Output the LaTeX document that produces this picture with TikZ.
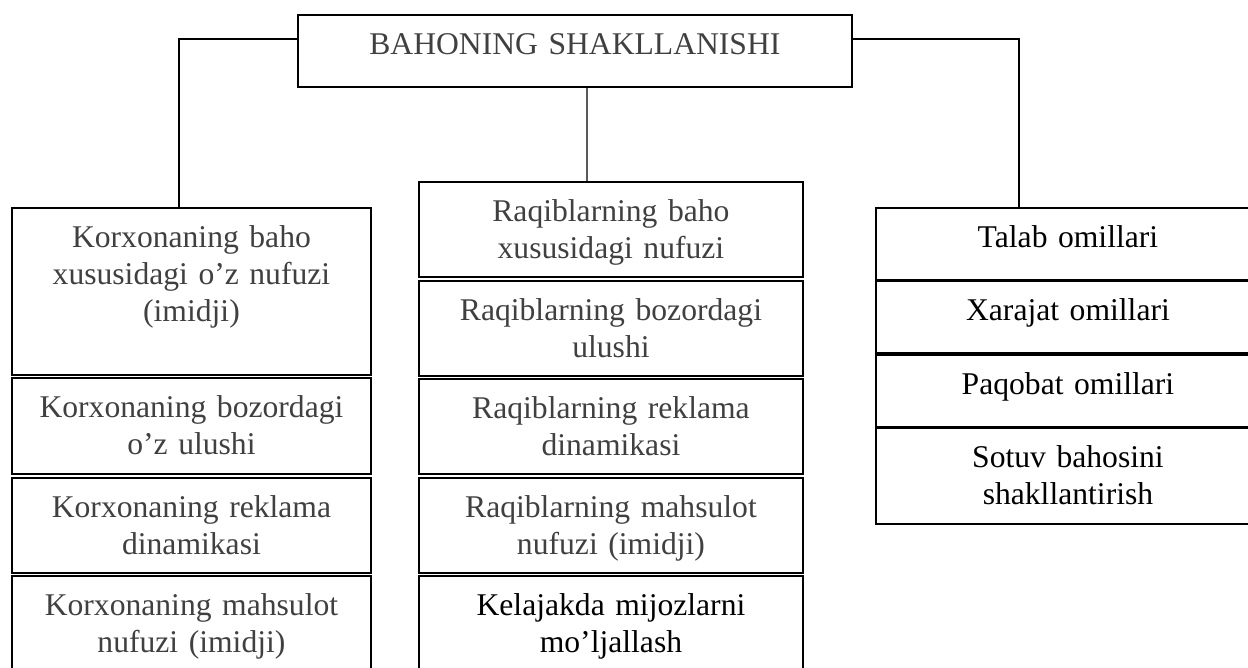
\documentclass[tikz,border=0pt]{standalone}
\usepackage{fontspec}
\setmainfont{Liberation Serif}
\definecolor{kulrang}{HTML}{404040}
\tikzset{
  katak/.style={draw, line width=1.1pt, inner sep=0pt, outer sep=0pt,
    anchor=north west, align=center, text height=0.8cm, text depth=#1,
    font=\fontsize{18}{21}\selectfont},
  chap/.style={katak=#1, text width=7.18cm, text=kulrang},
  orta/.style={katak=#1, text width=7.68cm, text=kulrang},
  ong/.style={katak=#1, text width=7.68cm},
}
\begin{document}
\begin{tikzpicture}[x=0.02cm,y=-0.02cm]
\useasboundingbox (0,0) rectangle (1248,668);
\clip (0,0) rectangle (1248,668);
% Sarlavha
\node[katak=0.64cm, text width=11.08cm, text=kulrang] (bosh) at (298,15) {BAHONING SHAKLLANISHI};
% Korxona ustuni
\node[chap=2.54cm] (kor1) at (12,208) {Korxonaning baho\\xususidagi o’z nufuzi\\(imidji)};
\node[chap=1.12cm] (kor2) at (12,378) {Korxonaning bozordagi\\o’z ulushi};
\node[chap=1.10cm] (kor3) at (12,478) {Korxonaning reklama\\dinamikasi};
\node[chap=1.12cm] (kor4) at (12,576) {Korxonaning mahsulot\\nufuzi (imidji)};
% Raqiblar ustuni
\node[orta=1.10cm] (raq1) at (419,182) {Raqiblarning baho\\xususidagi nufuzi};
\node[orta=1.10cm] (raq2) at (419,281) {Raqiblarning bozordagi\\ulushi};
\node[orta=1.10cm] (raq3) at (419,379) {Raqiblarning reklama\\dinamikasi};
\node[orta=1.10cm] (raq4) at (419,478) {Raqiblarning mahsulot\\nufuzi (imidji)};
\node[orta=1.12cm, text=black] (raq5) at (419,576) {Kelajakda mijozlarni\\mo’ljallash};
% Omillar ustuni
\node[ong=0.64cm] (omil1) at (876,208) {Talab omillari};
\node[ong=0.64cm] (omil2) at (876,281) {Xarajat omillari};
\node[ong=0.64cm] (omil3) at (876,355) {Paqobat omillari};
\node[ong=1.12cm] (omil4) at (876,428) {Sotuv bahosini\\shakllantirish};
% Ulanishlar
\draw[line width=0.75pt] ([yshift=0.24cm]bosh.west) -| ([xshift=-0.25cm]kor1.north);
\draw[line width=0.75pt] ([xshift=0.24cm]bosh.south) -- ([xshift=-0.48cm]raq1.north);
\draw[line width=0.75pt] ([yshift=0.24cm]bosh.east) -| ([xshift=-0.98cm]omil1.north);
\end{tikzpicture}
\end{document}
